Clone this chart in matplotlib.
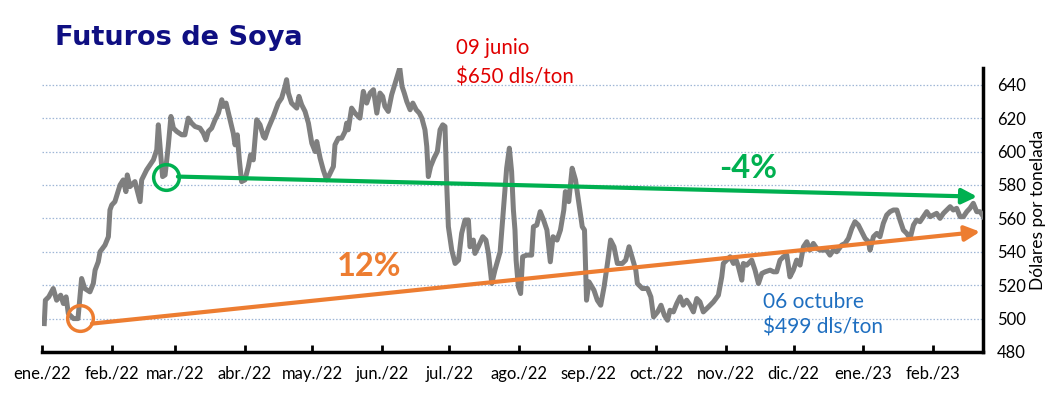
import matplotlib
matplotlib.use("Agg")
import matplotlib.pyplot as plt
import matplotlib.dates as mdates
import pandas as pd
import numpy as np

# ---------------- data ----------------
start_date = "2022-01-01"
dias = [1, 1.5, 3, 5, 6.5, 8.3, 9.5, 10.7, 11.7, 14, 16, 17.6, 19, 21.3, 22.8, 23.6, 25, 25.8, 28, 29.5,
        30.2, 31, 32.4, 34.7, 36.1, 37.3, 37.9, 39.1, 41.3, 43.6, 44.3, 46.5, 49.5, 51, 51.7, 52.7, 53.6,
        54.7, 56.1, 57.3, 58.4, 59.9, 62.1, 63.5, 65, 66.5, 68, 70.2, 71.7, 72.9, 73.9, 75.4, 76.9, 78.4,
        79.9, 80.6, 81.8, 83.6, 85, 85.8, 86.8, 87.7, 88.7, 90.2, 91.7, 92.7, 93.9, 95.4, 96.9, 98.4, 99.1,
        100.6, 102.8, 105, 106.5, 108, 108.7, 109.5, 110.9, 113.2, 114.2, 115.4, 116.9, 118.4, 119.9, 121.4,
        122.1, 123.6, 125, 126.5, 127.7, 129.5, 130.2, 131.7, 133.2, 134.7, 135.4, 136.1, 137.6, 139.1,
        141.3, 142.8, 144.3, 145.8, 147.3, 148.8, 150.2, 151.4, 152.4, 153.9, 155.4, 159, 160, 161, 162.1,
        163.6, 164.8, 166.3, 167.7, 168.8, 170.2, 171, 171.7, 172.7, 174.2, 175.7, 176.9, 178.1, 179.1,
        179.9, 180.6, 182.1, 183.6, 185.1, 186.5, 188, 189.5, 190.2, 191.7, 192.4, 193.9, 195.9, 197.3,
        198.4, 199.9, 201.3, 203.6, 205, 206.5, 207.7, 208.7, 209.5, 210.2, 210.7, 211.7, 212.7, 213.6,
        215.4, 217.6, 218.4, 219.9, 221.4, 222.9, 224.4, 225.9, 227.1, 228.9, 230.4, 231.9, 232.6, 234.1,
        235.6, 237.1, 238.6, 240.1, 241.1, 242, 243.1, 245.3, 246.8, 248.3, 249.8, 251.3, 252.7, 254.2,
        255.7, 257.9, 259.4, 260.9, 262.4, 263.9, 264.6, 266.8, 269.1, 270.6, 271.8, 273.6, 275.1, 276.6,
        278, 279.1, 280.6, 282.1, 283.6, 285, 286.5, 288, 289.5, 291, 292.4, 293.9, 296.2, 298.4, 300.6,
        302.1, 302.8, 304.3, 305.8, 307.3, 308.5, 309.5, 311, 311.7, 313.2, 315.4, 316.9, 318.4, 319.9,
        321.4, 323.6, 325.1, 326.5, 328, 329.5, 331, 332.4, 333.9, 335.4, 336.9, 338.4, 339.9, 341.3,
        342.8, 344.3, 345.8, 347.3, 348.7, 350.2, 351.7, 353.2, 355.4, 356.9, 358.4, 359.9, 361.3, 362.8,
        364.3, 365.8, 367.3, 368, 369.5, 371, 372.4, 373.9, 375.4, 376.9, 378.4, 379.9, 381.3, 382.8,
        384.3, 385.8, 387.3, 388.7, 390.2, 391.7, 393.2, 394.7, 396.1, 397.6, 399.1, 400.6, 402.1, 403.6,
        405, 406.5, 408, 409.5, 411, 412.4, 413.9, 415.4, 416.9, 418.4]
precios = [497, 511, 513, 518, 511, 514, 509, 513, 503, 500, 500, 524, 518, 516, 521, 529, 534, 540, 544, 549,
           565, 568, 570, 580, 583, 576, 586, 579, 582, 570, 583, 589, 595, 601, 616, 599, 585,
           586, 603, 621, 614, 612, 610, 610, 620, 617, 615, 614, 611, 607, 612, 614, 619, 623,
           631, 627, 629, 619, 611, 604, 610, 595, 582, 583, 591, 598, 595, 619, 616, 609, 608,
           614, 621, 629, 632, 639, 643, 635, 629, 626, 633, 628, 624, 617, 605, 600,
           606, 596, 589, 583, 586, 591, 604, 608, 608, 612, 617, 613, 626, 623,
           620, 636, 629, 635, 637, 623, 635, 633, 627, 624, 634, 650, 639, 635, 630,
           625, 629, 625, 623, 620, 613, 603, 585, 591, 596, 600, 613, 616, 615,
           579, 555, 541, 533, 535, 551, 559, 559, 543, 547, 539, 543, 549, 547,
           539, 521, 529, 540, 564, 590, 602, 588, 565, 553, 535, 519, 515, 537,
           538, 538, 555, 556, 564, 559, 553, 534, 549, 547, 553, 565, 576, 570,
           590, 583, 569, 555, 553, 511, 522, 517, 511, 508, 519, 533, 547, 543,
           533, 533, 535, 543, 536, 529, 521, 518, 518, 513, 501, 504, 508, 502,
           499, 505, 504, 509, 513, 508, 511, 508, 504, 512, 510, 504, 507, 510, 514,
           525, 533, 535, 537, 533, 535, 531, 523, 533, 532, 535, 529, 521, 527,
           528, 529, 528, 528, 535, 537, 538, 525, 529, 535, 532, 543, 546, 541,
           545, 542, 541, 541, 541, 538, 541, 540, 544, 545, 548, 554, 558, 556,
           552, 548, 546, 541, 549, 551, 549, 557, 562, 564, 565, 565, 559, 553,
           551, 548, 556, 559, 558, 561, 564, 561, 562, 563, 560, 563, 565, 567,
           565, 566, 561, 561, 564, 566, 569, 564, 564, 561]

meses = ["ene./22", "feb./22", "mar./22", "abr./22", "may./22", "jun./22", "jul./22",
         "ago./22", "sep./22", "oct./22", "nov./22", "dic./22", "ene./23", "feb./23"]

# trend annotations (start/end dates and values)
naranja_dias = [22.2, 416.9]
naranja_vals = [497, 552]
verde_dias = [60.4, 415.6]
verde_vals = [585, 573]
circ_naranja = (16.9, 500.4)
circ_verde = (55.1, 585)

# ---------------- plot ----------------
plt.rcParams['font.family'] = ['Lato', 'DejaVu Sans']

t0 = pd.Timestamp(start_date)
fechas = [t0 + pd.Timedelta(days=d) for d in dias]
def f(d):
    return t0 + pd.Timedelta(days=d)

fig = plt.figure(figsize=(10.53, 3.98), dpi=100)
ax = fig.add_axes([42/1053, 1 - 352/398, (983 - 42)/1053, (352 - 68)/398])

GRAY = "#7F7F7F"
GREEN = "#00B050"
ORANGE = "#ED7D31"

ax.plot(fechas, precios, color=GRAY, lw=3.6, solid_joinstyle='round', zorder=3)

# trend arrows
for ds, vs, col in [(naranja_dias, naranja_vals, ORANGE), (verde_dias, verde_vals, GREEN)]:
    ax.annotate("", xy=(mdates.date2num(f(ds[1])), vs[1]),
                xytext=(mdates.date2num(f(ds[0])), vs[0]),
                arrowprops=dict(arrowstyle="-|>,head_length=0.9,head_width=0.45",
                                color=col, lw=3, shrinkA=0, shrinkB=0), zorder=4)

ax.plot([f(circ_naranja[0])], [circ_naranja[1]], marker='o', ms=18.5, mfc='none',
        mec=ORANGE, mew=2.5, zorder=5)
ax.plot([f(circ_verde[0])], [circ_verde[1]], marker='o', ms=18.5, mfc='none',
        mec=GREEN, mew=2.5, zorder=5)

ax.set_xlim(t0, f(418.2))
ax.set_ylim(480, 650)

ticks = pd.date_range("2022-01-01", periods=len(meses), freq="MS")
ax.set_xticks(ticks)
ax.set_xticklabels(meses, fontsize=12)
ax.tick_params(axis='x', direction='in', length=5, width=2, pad=10)

ax.yaxis.tick_right()
ax.set_yticks(range(480, 641, 20))
ax.tick_params(axis='y', length=0, pad=10, labelsize=12)
ax.yaxis.set_label_position("right")
ax.set_ylabel("Dólares por tonelada", fontsize=12.5, labelpad=3)

for v in range(500, 641, 20):
    ax.axhline(v, color="#9FB6D6", lw=0.9, ls=(0, (1.2, 1.5)), zorder=1)

for s in ["left", "top"]:
    ax.spines[s].set_visible(False)
ax.spines["bottom"].set_linewidth(2.5)
ax.spines["right"].set_linewidth(2.5)

# texts
fig.text(55/1053, 1 - 38/398, "Futuros de Soya", fontsize=19.5, fontweight='bold',
         color="#0F0F82", family="DejaVu Sans", va='center', ha='left')
fig.text(456/1053, 1 - 48/398, "09 junio", fontsize=14.8, color="#E00000", va='center')
fig.text(456/1053, 1 - 78/398, "$650 dls/ton", fontsize=14.8, color="#E00000", va='center')
fig.text(763/1053, 1 - 302/398, "06 octubre", fontsize=15, color="#1F6FC0", va='center')
fig.text(763/1053, 1 - 327/398, "$499 dls/ton", fontsize=15, color="#1F6FC0", va='center')
fig.text(748/1053, 1 - 169/398, "-4%", fontsize=23.5, fontweight='bold', color=GREEN,
         va='center', ha='center')
fig.text(369/1053, 1 - 266/398, "12%", fontsize=23.5, fontweight='bold', color=ORANGE,
         va='center', ha='center')

fig.savefig("out.png", dpi=100)
